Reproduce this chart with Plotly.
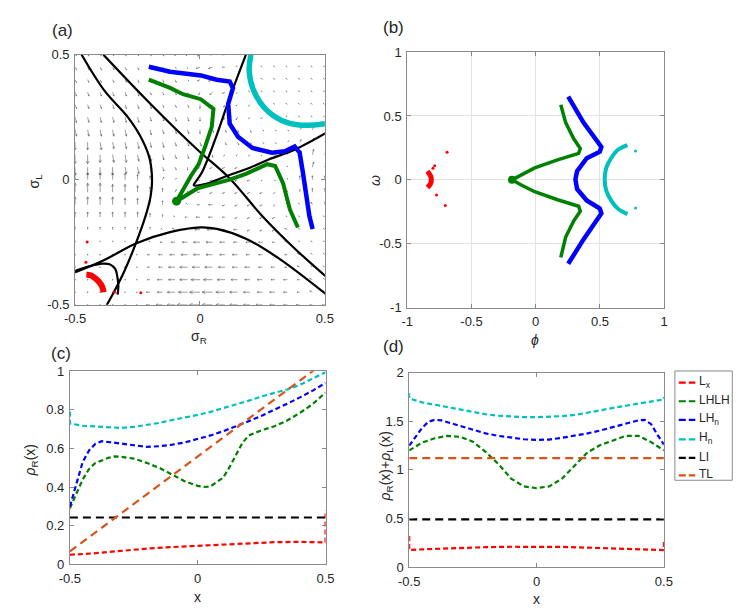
import math
import plotly.graph_objects as go

W, H = 744, 609

# ---------------- panel (a): phase plane sigma_R / sigma_L ----------------
grid_r = [-0.5, -0.45, -0.4, -0.35, -0.3, -0.25, -0.2, -0.15, -0.1, -0.05, 0.0,
          0.05, 0.1, 0.15, 0.2, 0.25, 0.3, 0.35, 0.4, 0.45, 0.5]
grid_l = [0.5, 0.45, 0.4, 0.35, 0.3, 0.25, 0.2, 0.15, 0.1, 0.05, 0.0,
          -0.05, -0.1, -0.15, -0.2, -0.25, -0.3, -0.35, -0.4, -0.45, -0.5]

# arrow components, rows from sigma_L = 0.5 down to -0.5
field_u = [
    [1, 1, 1, 1, 1, 1, 1, 1, 0, -1, -2, -2, -2, -1, -1, -1, -1, -1, -1, -1, -1],
    [1, 1, 1, 1, 1, 1, 1, 1, 1, 0, -3, -3, -2, -1, -1, -1, -1, -1, -1, -1, -1],
    [1, 1, 1, 1, 1, 1, 1, 1, 1, 1, -2, -3, -2, -1, -1, -1, -1, -1, -1, -1, -1],
    [1, 1, 1, 1, 1, 1, 1, 1, 1, 1, -1, -2, -2, -1, -1, -1, -1, -1, -1, -1, -1],
    [1, 1, 1, 1, 1, 1, 1, 1, 1, 1, 0, -1, -1, -1, -1, -1, -1, -1, -1, -1, -1],
    [1, 1, 1, 1, 1, 1, 1, 1, 1, 1, 0, -1, -1, -1, -1, -1, -1, -1, -1, -1, -1],
    [1, 1, 1, 1, 1, 1, 1, 1, 1, 1, 0, 1, 1, 1, 1, 1, 1, 1, 1, 1, 1],
    [0, 0, 1, 1, 1, 1, 1, 1, 1, 1, 1, 1, 1, 1, 1, 1, 1, 1, 1, 1, 1],
    [0, 0, 0, 1, 1, 1, 1, 1, 1, 1, 0, 0, -1, -1, -1, -1, 0, 1, 1, 1, 1],
    [0, 0, 0, 0, 1, 1, 1, 1, 1, 0, -1, -2, -2, -2, -2, -1, 0, 0, 1, 1, 1],
    [0, 0, 0, 0, 0, 0, 0, 1, 1, 0, -1, -2, -2, -2, -2, -1, 0, 0, 0, 0, 0],
    [0, 0, 0, 0, 0, 0, 0, 0, 1, 0, -2, -2, -2, -2, -2, -2, -1, 0, 0, 0, 0],
    [0, 0, 0, 0, 0, 0, 0, 0, 0, -1, -2, -3, -2, -2, -2, -2, -1, -1, -1, -1, 0],
    [0, 0, 0, 0, 0, 0, 0, 0, -1, -2, -3, -3, -2, -2, -2, -2, -2, -1, -1, -1, -1],
    [0, 0, 0, 0, 0, 0, 0, -1, -2, -3, -4, -4, -3, -3, -2, -2, -2, -2, -1, -1, -1],
    [0, 0, 0, 0, 0, 0, -1, -2, -3, -4, -5, -5, -4, -3, -3, -3, -2, -2, -1, -1, -1],
    [0, 0, 0, 0, 0, -1, -2, -3, -4, -5, -5, -5, -4, -4, -3, -3, -2, -2, -2, -1, -1],
    [0, 0, 0, 0, -1, -1, -2, -3, -5, -6, -6, -6, -5, -4, -4, -3, -3, -2, -2, -1, -1],
    [0, 0, 0, 0, 0, -1, -2, -4, -5, -6, -7, -7, -6, -5, -4, -4, -3, -3, -2, -2, -1],
    [0, 0, 0, 0, 0, -1, -3, -4, -6, -7, -8, -8, -7, -6, -5, -4, -4, -3, -2, -2, -1],
    [0, 0, 0, 0, 0, -1, -3, -5, -6, -8, -8, -8, -7, -6, -5, -5, -4, -3, -3, -2, -2],
]
field_v = [
    [-1, -1, -1, -1, -1, -1, -1, -1, -1, -1, -1, 0, 0, 1, 1, 1, 1, 1, 1, 1, 1],
    [-2, -2, -2, -2, -2, -2, -2, -1, -1, -1, -1, -1, 0, 1, 1, 1, 1, 1, 1, 1, 1],
    [-2, -2, -2, -2, -2, -2, -2, -2, -2, -1, -1, -1, -1, 1, 1, 1, 1, 1, 1, 1, 1],
    [-3, -3, -3, -3, -3, -3, -2, -2, -2, -2, -2, -2, -1, -1, 1, 1, 1, 1, 1, 1, 1],
    [-3, -3, -3, -3, -3, -3, -3, -2, -2, -2, -3, -2, -2, -1, -1, 1, 1, 1, 1, 1, 1],
    [-4, -4, -4, -4, -4, -4, -3, -3, -3, -3, -3, -2, -2, -2, -1, -1, -1, 1, 1, 1, 1],
    [-5, -5, -5, -5, -5, -4, -4, -3, -3, -3, -3, -2, -2, -2, -2, -1, -1, -1, 1, 2, 2],
    [-6, -6, -6, -5, -5, -5, -4, -4, -3, -3, -3, -2, -2, -2, -1, -1, -1, 1, 2, 3, 3],
    [-7, -7, -6, -6, -6, -5, -5, -4, -3, -3, -2, -2, -1, -1, -1, -1, -1, 2, 3, 4, 4],
    [-6, -6, -6, -6, -5, -5, -4, -3, -2, -2, -1, -1, -1, -1, -1, -1, -1, 1, 3, 4, 4],
    [5, 5, 5, 5, 5, 4, 3, 2, 1, -1, -1, -1, -1, -1, -1, -1, -1, 1, 3, 3, 3],
    [7, 7, 7, 6, 6, 5, 4, 3, 2, 1, 0, -1, -1, -1, -1, -1, -1, 1, 2, 3, 3],
    [6, 6, 6, 6, 5, 5, 4, 3, 2, 1, 0, 0, -1, -1, -1, -1, -1, 1, 1, 2, 2],
    [4, 4, 4, 4, 4, 4, 3, 2, 1, 0, 0, 0, 0, -1, -1, -1, -1, 1, 1, 1, 1],
    [2, 2, 2, 2, 2, 2, 2, 1, 1, 0, 0, 0, 0, 0, -1, -1, -1, 1, 1, 1, 1],
    [1, 1, 1, 1, 1, 1, 1, 0, 0, 0, 0, 0, 0, 0, 0, 0, 0, 1, 1, 1, 1],
    [0, 0, 0, 0, 0, 0, 0, 0, 0, 0, 0, 0, 0, 0, 0, 0, 0, 0, 1, 1, 1],
    [0, 0, 0, 0, 0, 0, 0, 0, 0, 0, 0, 0, 0, 0, 0, 0, 0, 0, 1, 1, 1],
    [0, 0, 0, 0, 0, 0, 0, 0, 0, 0, 0, 0, 0, 0, 0, 0, 0, 0, 0, 1, 1],
    [0, 0, 0, 0, 0, 0, 0, 0, 0, 0, 0, 0, 0, 0, 0, 0, 0, 0, 0, 1, 1],
    [0, 0, 0, 0, 0, 0, 0, 0, 0, 0, 0, 0, 0, 0, 0, 0, 0, 0, 0, 0, 0],
]

# black curves in (a)
curve1_r = [-0.474, -0.381, -0.289, -0.231, -0.201, -0.192, -0.198, -0.218, -0.257, -0.303, -0.342, -0.374]
curve1_l = [0.5, 0.354, 0.25, 0.159, 0.081, -0.003, -0.067, -0.145, -0.255, -0.366, -0.444, -0.502]
curve2_r = [-0.387, -0.198, -0.010, 0.119, 0.249, 0.379, 0.503]
curve2_l = [0.5, 0.303, 0.120, 0.005, -0.145, -0.275, -0.386]
curve3_r = [-0.504, -0.381, -0.257, -0.120, 0.003, 0.067, 0.184, 0.314, 0.503]
curve3_l = [-0.372, -0.32, -0.255, -0.210, -0.191, -0.197, -0.236, -0.314, -0.457]
curve4_r = [0.184, 0.119, 0.060, 0.008, -0.015, -0.025, 0.02, 0.10, 0.20, 0.275, 0.379, 0.503]
curve4_l = [0.5, 0.328, 0.159, 0.03, -0.005, -0.022, -0.018, 0.012, 0.048, 0.081, 0.12, 0.186]
loop_r = [-0.504, -0.444, -0.392, -0.360, -0.340, -0.331, -0.327, -0.33]
loop_l = [-0.366, -0.347, -0.336, -0.339, -0.356, -0.388, -0.427, -0.46]

# simulated steady states in (a)
a_red_r = [-0.455, -0.44, -0.425, -0.405, -0.392, -0.386]
a_red_l = [-0.38, -0.382, -0.39, -0.408, -0.427, -0.45]
a_red_dots_r = [-0.457, -0.452, -0.342, -0.237]
a_red_dots_l = [-0.33, -0.249, -0.45, -0.452]
a_green_r = [-0.205, -0.120, -0.068, 0.003, 0.054, 0.047, 0.021, -0.005, -0.036, -0.068, -0.094,
             -0.011, 0.067, 0.119, 0.184, 0.269, 0.301, 0.321, 0.333, 0.360, 0.392]
a_green_l = [0.400, 0.367, 0.342, 0.322, 0.283, 0.211, 0.133, 0.062, 0.016, -0.041, -0.086,
             -0.035, -0.015, 0.0, 0.023, 0.062, 0.055, 0.016, -0.015, -0.119, -0.191]
a_blue_r = [-0.205, -0.120, 0.003, 0.067, 0.119, 0.132, 0.113, 0.119, 0.152, 0.210, 0.288, 0.340,
            0.379, 0.399, 0.412, 0.425, 0.438, 0.451]
a_blue_l = [0.452, 0.432, 0.417, 0.400, 0.393, 0.367, 0.303, 0.224, 0.172, 0.127, 0.108, 0.114,
            0.133, 0.108, 0.029, -0.067, -0.145, -0.197]
a_cyan_r = [0.204, 0.197, 0.216, 0.262, 0.327, 0.405, 0.503]
a_cyan_l = [0.5, 0.433, 0.354, 0.283, 0.237, 0.218, 0.224]

# ---------------- panel (b): phi / omega ----------------
b_red_x = [-0.843, -0.818, -0.813, -0.818, -0.843]
b_red_y = [0.067, 0.029, 0.004, -0.029, -0.06]
b_red_dots_x = [-0.787, -0.80, -0.69, -0.772, -0.704]
b_red_dots_y = [0.11, 0.09, 0.215, -0.118, -0.2]
b_green_x = [0.195, 0.233, 0.296, 0.347, 0.334, 0.17, -0.008, -0.109, -0.185,
             -0.109, -0.008, 0.17, 0.334, 0.347, 0.296, 0.233, 0.195]
b_green_y = [0.587, 0.448, 0.321, 0.245, 0.207, 0.156, 0.093, 0.042, 0.0,
             -0.042, -0.093, -0.156, -0.207, -0.245, -0.321, -0.448, -0.607]
b_blue_x = [0.253, 0.372, 0.511, 0.499, 0.397, 0.322, 0.309, 0.322, 0.397, 0.499, 0.511, 0.372, 0.253]
b_blue_y = [0.652, 0.448, 0.258, 0.22, 0.169, 0.067, 0.004, -0.072, -0.161, -0.225, -0.263, -0.466, -0.657]
b_cyan_x = [0.714, 0.638, 0.587, 0.549, 0.537, 0.549, 0.587, 0.638, 0.714]
b_cyan_y = [0.271, 0.233, 0.169, 0.093, 0.004, -0.085, -0.161, -0.225, -0.268]
b_cyan_dots_x = [0.777, 0.777]
b_cyan_dots_y = [0.225, -0.22]

# ---------------- panel (c): rho_R(x) ----------------
c_cyan_x = [-0.5, -0.5, -0.45, -0.4, -0.35, -0.3, -0.25, -0.2, -0.15, -0.1, -0.05, 0.0,
            0.05, 0.1, 0.15, 0.2, 0.25, 0.3, 0.35, 0.4, 0.45, 0.5]
c_cyan_y = [0.79, 0.73, 0.718, 0.714, 0.71, 0.707, 0.712, 0.722, 0.733, 0.748, 0.76, 0.774,
            0.79, 0.808, 0.828, 0.848, 0.87, 0.887, 0.906, 0.93, 0.962, 0.995]
c_blue_x = [-0.5, -0.475, -0.45, -0.425, -0.4, -0.375, -0.35, -0.3, -0.25, -0.2, -0.15, -0.1,
            -0.05, 0.0, 0.05, 0.1, 0.15, 0.2, 0.25, 0.3, 0.35, 0.4, 0.45, 0.5]
c_blue_y = [0.30, 0.42, 0.53, 0.59, 0.625, 0.638, 0.635, 0.626, 0.617, 0.609, 0.612, 0.62,
            0.632, 0.648, 0.668, 0.69, 0.715, 0.742, 0.77, 0.8, 0.832, 0.865, 0.9, 0.94]
c_green_x = [-0.5, -0.475, -0.45, -0.425, -0.4, -0.35, -0.325, -0.3, -0.25, -0.2, -0.15, -0.1,
             -0.05, 0.0, 0.025, 0.05, 0.1, 0.125, 0.15, 0.175, 0.2, 0.25, 0.3, 0.35, 0.4, 0.45, 0.5]
c_green_y = [0.29, 0.37, 0.44, 0.495, 0.525, 0.552, 0.559, 0.557, 0.548, 0.526, 0.5, 0.465,
             0.43, 0.407, 0.401, 0.404, 0.45, 0.505, 0.57, 0.63, 0.668, 0.695, 0.715, 0.745, 0.785, 0.83, 0.89]
c_red_x = [-0.5, -0.4, -0.3, -0.2, -0.1, 0.0, 0.1, 0.2, 0.3, 0.4, 0.5, 0.5]
c_red_y = [0.05, 0.058, 0.07, 0.082, 0.09, 0.097, 0.103, 0.11, 0.115, 0.117, 0.114, 0.28]
c_li_x = [-0.5, 0.5]
c_li_y = [0.243, 0.243]
c_tl_x = [-0.5, 0.5]
c_tl_y = [0.067, 1.05]

# ---------------- panel (d): rho_R(x)+rho_L(x) ----------------
d_cyan_x = [-0.5, -0.5, -0.45, -0.4, -0.35, -0.3, -0.25, -0.2, -0.15, -0.1, -0.05, 0.0,
            0.05, 0.1, 0.15, 0.2, 0.25, 0.3, 0.35, 0.4, 0.45, 0.5, 0.5]
d_cyan_y = [1.79, 1.735, 1.695, 1.67, 1.645, 1.618, 1.59, 1.572, 1.558, 1.548, 1.543, 1.542,
            1.545, 1.553, 1.565, 1.585, 1.612, 1.638, 1.66, 1.682, 1.705, 1.725, 1.75]
d_blue_x = [-0.5, -0.475, -0.45, -0.425, -0.4, -0.375, -0.35, -0.3, -0.25, -0.2, -0.15, -0.1,
            -0.05, 0.0, 0.05, 0.1, 0.15, 0.2, 0.25, 0.3, 0.35, 0.4, 0.425, 0.45, 0.475, 0.5]
d_blue_y = [1.25, 1.34, 1.43, 1.495, 1.515, 1.51, 1.49, 1.45, 1.41, 1.375, 1.35, 1.33,
            1.315, 1.308, 1.312, 1.33, 1.35, 1.375, 1.405, 1.44, 1.47, 1.51, 1.515, 1.47, 1.36, 1.26]
d_green_x = [-0.5, -0.45, -0.4, -0.35, -0.3, -0.25, -0.2, -0.15, -0.1, -0.05, 0.0,
             0.05, 0.1, 0.15, 0.2, 0.25, 0.3, 0.35, 0.4, 0.45, 0.5]
d_green_y = [1.2, 1.28, 1.325, 1.35, 1.34, 1.29, 1.185, 1.06, 0.91, 0.83, 0.812,
             0.83, 0.91, 1.05, 1.18, 1.255, 1.305, 1.35, 1.35, 1.285, 1.2]
d_red_x = [-0.5, -0.5, -0.45, -0.4, -0.3, -0.2, -0.1, 0.0, 0.1, 0.2, 0.3, 0.4, 0.45, 0.5, 0.5]
d_red_y = [0.32, 0.175, 0.182, 0.188, 0.198, 0.205, 0.209, 0.21, 0.207, 0.2, 0.192, 0.184, 0.178, 0.175, 0.28]
d_li_x = [-0.5, 0.5]
d_li_y = [0.49, 0.49]
d_tl_x = [-0.5, 0.5]
d_tl_y = [1.12, 1.12]

series_names = ['L<sub>x</sub>', 'LHLH', 'LH<sub>n</sub>', 'H<sub>n</sub>', 'LI', 'TL']
RED, GREEN, BLUE, CYAN, BLACK, ORANGE = '#ff0000', '#008000', '#0000ff', '#00bfbf', '#000000', '#d95319'
series_colors = [RED, GREEN, BLUE, CYAN, BLACK, ORANGE]

FRAME = '#8a8a8a'
TXT = '#262626'
FONT = 'Liberation Sans, Arial, sans-serif'
CURVE_DASH = '5px,3px'
FLAT_DASH = '8px,5px'


def quiver_lines(xs, ys, U, V, scale=0.0052):
    qx, qy, zx, zy = [], [], [], []
    for j, y0 in enumerate(ys):
        for i, x0 in enumerate(xs):
            u, v = U[j][i] * scale, V[j][i] * scale
            if u == 0 and v == 0:
                zx.append(x0)
                zy.append(y0)
                continue
            x1, y1 = x0 + u, y0 + v
            ln = math.hypot(u, v)
            ang = math.atan2(v, u)
            h = 0.33 * ln
            qx += [x0, x1, None,
                   x1 - h * math.cos(ang - 0.45), x1, x1 - h * math.cos(ang + 0.45), None]
            qy += [y0, y1, None,
                   y1 - h * math.sin(ang - 0.45), y1, y1 - h * math.sin(ang + 0.45), None]
    return qx, qy, zx, zy


fig = go.Figure()

# ----- (a)
qx, qy, zx, zy = quiver_lines(grid_r, grid_l, field_u, field_v)
fig.add_scatter(x=qx, y=qy, mode='lines', line=dict(color='#5a5a5a', width=0.6),
                xaxis='x', yaxis='y', showlegend=False, hoverinfo='skip')
fig.add_scatter(x=zx, y=zy, mode='markers', marker=dict(color='#777', size=1.5),
                xaxis='x', yaxis='y', showlegend=False, hoverinfo='skip')
for cx, cy in [(curve1_r, curve1_l), (curve2_r, curve2_l), (curve3_r, curve3_l),
               (curve4_r, curve4_l), (loop_r, loop_l)]:
    fig.add_scatter(x=cx, y=cy, mode='lines', line=dict(color='black', width=2.2, shape='spline'),
                    xaxis='x', yaxis='y', showlegend=False)
fig.add_scatter(x=a_red_r, y=a_red_l, mode='lines', line=dict(color=RED, width=6, shape='spline'),
                xaxis='x', yaxis='y', showlegend=False)
fig.add_scatter(x=a_red_dots_r, y=a_red_dots_l, mode='markers', marker=dict(color=RED, size=3),
                xaxis='x', yaxis='y', showlegend=False)
fig.add_scatter(x=a_green_r, y=a_green_l, mode='lines', line=dict(color=GREEN, width=4),
                xaxis='x', yaxis='y', showlegend=False)
fig.add_scatter(x=[a_green_r[10]], y=[a_green_l[10]], mode='markers',
                marker=dict(color=GREEN, size=9), xaxis='x', yaxis='y', showlegend=False)
fig.add_scatter(x=a_blue_r, y=a_blue_l, mode='lines', line=dict(color=BLUE, width=4.5),
                xaxis='x', yaxis='y', showlegend=False)
fig.add_scatter(x=a_cyan_r, y=a_cyan_l, mode='lines', line=dict(color=CYAN, width=5.5, shape='spline'),
                xaxis='x', yaxis='y', showlegend=False)

# ----- (b)
fig.add_scatter(x=b_red_x, y=b_red_y, mode='lines', line=dict(color=RED, width=5, shape='spline'),
                xaxis='x2', yaxis='y2', showlegend=False)
fig.add_scatter(x=b_red_dots_x, y=b_red_dots_y, mode='markers', marker=dict(color=RED, size=3),
                xaxis='x2', yaxis='y2', showlegend=False)
fig.add_scatter(x=b_green_x, y=b_green_y, mode='lines', line=dict(color=GREEN, width=3.5),
                xaxis='x2', yaxis='y2', showlegend=False)
fig.add_scatter(x=[b_green_x[8]], y=[b_green_y[8]], mode='markers', marker=dict(color=GREEN, size=8),
                xaxis='x2', yaxis='y2', showlegend=False)
fig.add_scatter(x=b_blue_x, y=b_blue_y, mode='lines', line=dict(color=BLUE, width=4.5),
                xaxis='x2', yaxis='y2', showlegend=False)
fig.add_scatter(x=b_cyan_x, y=b_cyan_y, mode='lines', line=dict(color=CYAN, width=4, shape='spline'),
                xaxis='x2', yaxis='y2', showlegend=False)
fig.add_scatter(x=b_cyan_dots_x, y=b_cyan_dots_y, mode='markers', marker=dict(color=CYAN, size=3),
                xaxis='x2', yaxis='y2', showlegend=False)

# ----- (c) and (d)
c_series = [(c_red_x, c_red_y), (c_green_x, c_green_y), (c_blue_x, c_blue_y),
            (c_cyan_x, c_cyan_y), (c_li_x, c_li_y), (c_tl_x, c_tl_y)]
d_series = [(d_red_x, d_red_y), (d_green_x, d_green_y), (d_blue_x, d_blue_y),
            (d_cyan_x, d_cyan_y), (d_li_x, d_li_y), (d_tl_x, d_tl_y)]
for axes, group in [(('x3', 'y3'), c_series), (('x4', 'y4'), d_series)]:
    for k, (sx, sy) in enumerate(group):
        dash = FLAT_DASH if k >= 4 else CURVE_DASH
        fig.add_scatter(x=sx, y=sy, mode='lines', name=series_names[k],
                        line=dict(color=series_colors[k], width=2.2, dash=dash),
                        xaxis=axes[0], yaxis=axes[1], showlegend=False)


def px_dom(a, b):
    return [a / W, b / W]


def py_dom(top, bottom):
    return [1 - bottom / H, 1 - top / H]


def ax(domain, rng, tickvals, ticktext, anchor, grid=False):
    return dict(domain=domain, range=rng, tickvals=tickvals, ticktext=ticktext, anchor=anchor,
                showline=True, mirror='allticks', linecolor=FRAME, linewidth=1,
                ticks='inside', ticklen=4, tickcolor=FRAME, showgrid=grid, gridcolor='#e3e3e3',
                zeroline=False, ticklabelstandoff=2,
                tickfont=dict(size=13, color=TXT, family=FONT))


fig.update_layout(
    width=W, height=H, margin=dict(l=0, r=0, t=0, b=0),
    paper_bgcolor='white', plot_bgcolor='white', showlegend=False,
    font=dict(family=FONT, color=TXT),
    xaxis=ax(px_dom(57.7, 314.3), [-0.5, 0.5], [-0.5, 0, 0.5], ['-0.5', '0', '0.5'], 'y'),
    yaxis=ax(py_dom(40.7, 297), [-0.5, 0.5], [-0.5, 0, 0.5], ['-0.5', '0', '0.5'], 'x'),
    xaxis2=ax(px_dom(399, 663), [-1, 1], [-1, -0.5, 0, 0.5, 1], ['-1', '-0.5', '0', '0.5', '1'], 'y2', True),
    yaxis2=ax(py_dom(38, 300), [-1, 1], [-1, -0.5, 0, 0.5, 1], ['-1', '-0.5', '0', '0.5', '1'], 'x2', True),
    xaxis3=ax(px_dom(52.3, 315), [-0.5, 0.5], [-0.5, 0, 0.5], ['-0.5', '0', '0.5'], 'y3'),
    yaxis3=ax(py_dom(365.3, 563.3), [0, 1], [0, 0.2, 0.4, 0.6, 0.8, 1],
              ['0', '0.2', '0.4', '0.6', '0.8', '1'], 'x3'),
    xaxis4=ax(px_dom(401, 662.7), [-0.5, 0.5], [-0.5, 0, 0.5], ['-0.5', '0', '0.5'], 'y4'),
    yaxis4=ax(py_dom(366.7, 566), [0, 2], [0, 0.5, 1, 1.5, 2], ['0', '0.5', '1', '1.5', '2'], 'x4'),
)


def label(text, px, py, size=14, angle=0, anchor='center'):
    fig.add_annotation(text=text, x=px / W, y=1 - py / H, xref='paper', yref='paper',
                       showarrow=False, textangle=angle, xanchor=anchor, yanchor='middle',
                       font=dict(size=size, color=TXT, family=FONT))


label('(a)', 45, 16, 17)
label('(b)', 385, 13, 17)
label('(c)', 43, 347, 17)
label('(d)', 385, 340, 17)
label('σ<sub>L</sub>', 16, 170, 14, -90)
label('σ<sub>R</sub>', 185, 330, 14)
label('<i>ω</i>', 366, 170, 14, -90)
label('<i>ϕ</i>', 530, 333, 14)
label('<i>ρ</i><sub>R</sub>(x)', 12, 457, 14, -90)
label('x', 183, 597, 14)
label('<i>ρ</i><sub>R</sub>(x)+<i>ρ</i><sub>L</sub>(x)', 377, 463, 14, -90)
label('x', 532, 599, 14)

# legend box drawn beside panel (d)
fig.add_shape(type='rect', xref='paper', yref='paper', x0=674 / W, x1=733 / W,
              y0=1 - 477 / H, y1=1 - 365 / H, line=dict(color=FRAME, width=1), fillcolor='white')
legend_rows = [377, 396, 415, 435, 454, 472]
for k, row in enumerate(legend_rows):
    fig.add_shape(type='line', xref='paper', yref='paper', x0=678 / W, x1=695 / W,
                  y0=1 - row / H, y1=1 - row / H,
                  line=dict(color=series_colors[k], width=2.2, dash='7px,3px'))
    label(series_names[k], 697, row - 1, 12, 0, 'left')

fig.write_html("out.html")
